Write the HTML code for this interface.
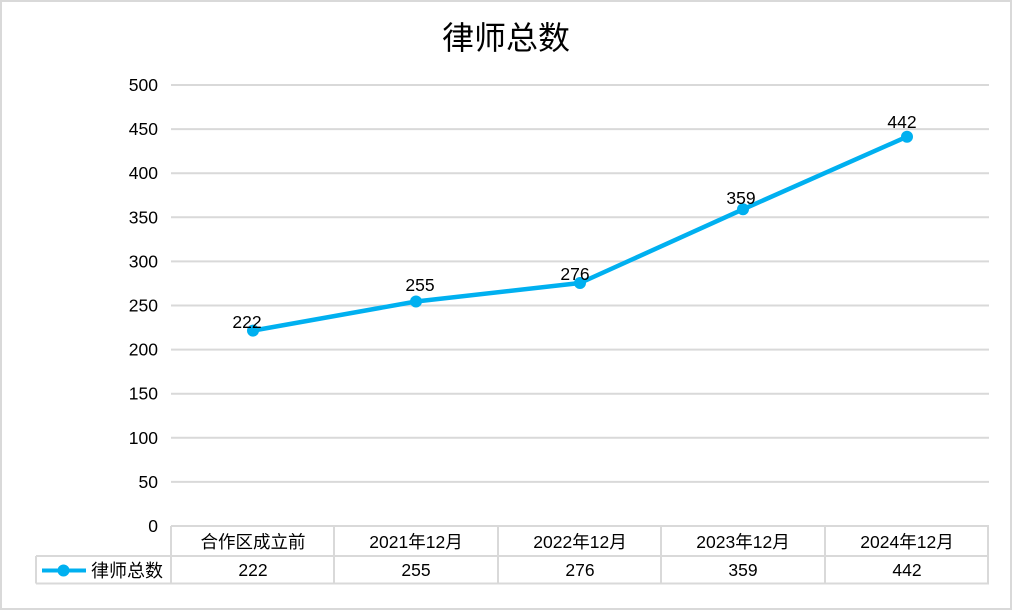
<!DOCTYPE html>
<html><head><meta charset="utf-8">
<style>
html,body{margin:0;padding:0;background:#fff;}
svg{display:block;}
text{font-family:"Liberation Sans","Noto Sans CJK SC",sans-serif;fill:#000;}
</style></head>
<body>
<svg width="1013" height="611" viewBox="0 0 1013 611" xmlns="http://www.w3.org/2000/svg">
<rect x="1" y="1" width="1010" height="608" fill="#fff" stroke="#d9d9d9" stroke-width="2"/>
<text x="506" y="49" font-size="32" text-anchor="middle" style="font-family:'Noto Sans CJK SC',sans-serif">律师总数</text>
<g stroke="#d9d9d9" stroke-width="2">
<line x1="171" y1="85" x2="989" y2="85"/>
<line x1="171" y1="129.1" x2="989" y2="129.1"/>
<line x1="171" y1="173.2" x2="989" y2="173.2"/>
<line x1="171" y1="217.3" x2="989" y2="217.3"/>
<line x1="171" y1="261.4" x2="989" y2="261.4"/>
<line x1="171" y1="305.5" x2="989" y2="305.5"/>
<line x1="171" y1="349.6" x2="989" y2="349.6"/>
<line x1="171" y1="393.7" x2="989" y2="393.7"/>
<line x1="171" y1="437.8" x2="989" y2="437.8"/>
<line x1="171" y1="481.9" x2="989" y2="481.9"/>
<!-- table -->
<line x1="171" y1="526" x2="989" y2="526"/>
<line x1="36" y1="556" x2="989" y2="556"/>
<line x1="36" y1="583.5" x2="989" y2="583.5"/>
<line x1="36" y1="556" x2="36" y2="583.5"/>
<line x1="171" y1="526" x2="171" y2="583.5"/>
<line x1="334" y1="526" x2="334" y2="583.5"/>
<line x1="498" y1="526" x2="498" y2="583.5"/>
<line x1="661" y1="526" x2="661" y2="583.5"/>
<line x1="825" y1="526" x2="825" y2="583.5"/>
<line x1="988" y1="526" x2="988" y2="583.5"/>
</g>
<g font-size="17.5" text-anchor="end">
<text x="158" y="91">500</text>
<text x="158" y="135.1">450</text>
<text x="158" y="179.2">400</text>
<text x="158" y="223.3">350</text>
<text x="158" y="267.4">300</text>
<text x="158" y="311.5">250</text>
<text x="158" y="355.6">200</text>
<text x="158" y="399.7">150</text>
<text x="158" y="443.8">100</text>
<text x="158" y="487.9">50</text>
<text x="158" y="532">0</text>
</g>
<g font-size="17.5" text-anchor="middle">
<text x="253" y="548">合作区成立前</text>
<text x="416" y="548">2021年12月</text>
<text x="580" y="548">2022年12月</text>
<text x="743" y="548">2023年12月</text>
<text x="907" y="548">2024年12月</text>
<text x="253" y="576">222</text>
<text x="416" y="576">255</text>
<text x="580" y="576">276</text>
<text x="743" y="576">359</text>
<text x="907" y="576">442</text>
</g>
<line x1="42" y1="570.5" x2="86" y2="570.5" stroke="#00b0f0" stroke-width="4"/>
<circle cx="63.5" cy="570.5" r="6" fill="#00b0f0"/>
<text x="91" y="577" font-size="18">律师总数</text>
<polyline points="253,330.6 416,301.5 580,283 743,209.3 907,136.7" fill="none" stroke="#00b0f0" stroke-width="4.5" stroke-linejoin="round"/>
<g fill="#00b0f0">
<circle cx="253" cy="330.6" r="6"/>
<circle cx="416" cy="301.5" r="6"/>
<circle cx="580" cy="283" r="6"/>
<circle cx="743" cy="209.3" r="6"/>
<circle cx="907" cy="136.7" r="6"/>
</g>
<g font-size="17.5" text-anchor="middle">
<text x="247" y="328">222</text>
<text x="420" y="291">255</text>
<text x="575" y="280">276</text>
<text x="741" y="204">359</text>
<text x="902" y="128">442</text>
</g>
</svg>
</body></html>
